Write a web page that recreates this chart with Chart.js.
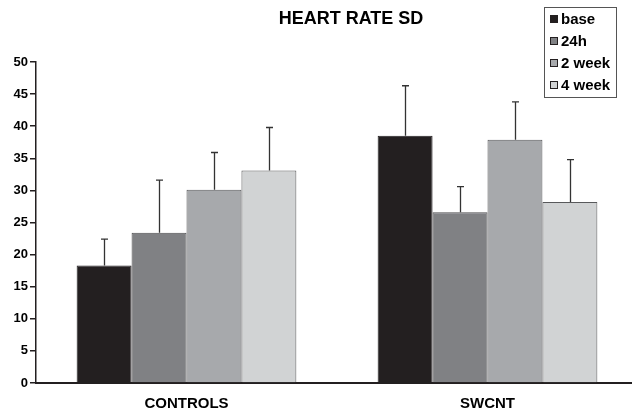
<!DOCTYPE html>
<html>
<head>
<meta charset="utf-8">
<script src="https://cdn.jsdelivr.net/npm/chart.js@4"></script>
<style>
  html, body { margin: 0; padding: 0; background: #ffffff; overflow: hidden; }
  #wrap { width: 632px; height: 415px; position: relative; overflow: hidden; }
  #chart { position: absolute; left: 0; top: 0; }
</style>
</head>
<body>
<div id="wrap"><canvas id="chart" width="638" height="415"></canvas></div>
<script>
// Groups on the x axis
const groups = ['CONTROLS', 'SWCNT'];

// Series names (legend)
const seriesNames = ['base', '24h', '2 week', '4 week'];

// Mean heart rate SD per group
const baseMean  = [18.3, 38.5];
const h24Mean   = [23.4, 26.6];
const week2Mean = [30.1, 37.9];
const week4Mean = [33.1, 28.2];

// Upper error (SD) per group
const baseErr  = [4.1, 7.8];
const h24Err   = [8.2, 4.0];
const week2Err = [5.8, 5.9];
const week4Err = [6.7, 6.6];

// Y axis range and step
const yMin = 0, yMax = 50, yStep = 5;

const chartTitle = 'HEART RATE SD';

const fills   = ['#231f20', '#808184', '#a7a9ac', '#d1d3d4'];
const borders = ['#231f20', '#4d4d4f', '#58595b', '#58595b'];
const means = [baseMean, h24Mean, week2Mean, week4Mean];
const errs  = [baseErr, h24Err, week2Err, week4Err];

const FONT = '"Liberation Sans", Arial, Helvetica, sans-serif';

const datasets = seriesNames.map((name, i) => ({
  label: name,
  data: means[i],
  errors: errs[i],
  backgroundColor: fills[i],
  borderColor: borders[i],
  borderWidth: 1,
  borderSkipped: 'bottom',
  categoryPercentage: 0.73,
  barPercentage: 1.0
}));

// Upper error bars with a small cap
const errorBarPlugin = {
  id: 'errorBars',
  afterDatasetsDraw(chart) {
    const ctx = chart.ctx;
    const yScale = chart.scales.y;
    ctx.save();
    ctx.strokeStyle = '#333333';
    ctx.lineWidth = 1.3;
    chart.data.datasets.forEach((ds, di) => {
      const meta = chart.getDatasetMeta(di);
      meta.data.forEach((bar, j) => {
        const top = yScale.getPixelForValue(ds.data[j] + ds.errors[j]);
        const x = Math.round(bar.x) + 0.5;
        ctx.beginPath();
        ctx.moveTo(x, bar.y);
        ctx.lineTo(x, top);
        ctx.moveTo(x - 3.5, top);
        ctx.lineTo(x + 3.5, top);
        ctx.stroke();
      });
    });
    ctx.restore();
  }
};

// Title and boxed legend drawn on the canvas
const decorPlugin = {
  id: 'decor',
  afterDraw(chart) {
    const ctx = chart.ctx;
    ctx.save();
    ctx.fillStyle = '#000000';
    ctx.font = 'bold 18px ' + FONT;
    ctx.textAlign = 'center';
    ctx.textBaseline = 'middle';
    ctx.fillText(chartTitle, 351, 19);

    // legend box
    ctx.strokeStyle = '#555555';
    ctx.lineWidth = 1;
    ctx.strokeRect(544.5, 7.5, 72, 90);
    ctx.font = 'bold 15px ' + FONT;
    ctx.textAlign = 'left';
    chart.data.datasets.forEach((ds, i) => {
      const cy = 19 + i * 22;
      ctx.fillStyle = ds.backgroundColor;
      ctx.fillRect(550, cy - 4, 8, 8);
      ctx.strokeStyle = '#231f20';
      ctx.strokeRect(550.5, cy - 3.5, 7, 7);
      ctx.fillStyle = '#000000';
      ctx.fillText(ds.label, 561, cy + 1);
    });
    ctx.restore();
  }
};

new Chart(document.getElementById('chart'), {
  type: 'bar',
  data: { labels: groups, datasets },
  options: {
    responsive: false,
    animation: false,
    layout: { padding: { top: 62, right: 0, left: 0, bottom: 0 } },
    plugins: {
      legend: { display: false },
      title: { display: false },
      tooltip: { enabled: false }
    },
    scales: {
      x: {
        grid: { display: false, drawTicks: false },
        border: { display: true, color: '#231f20', width: 2 },
        ticks: {
          color: '#000000',
          font: { family: FONT, size: 15, weight: 'bold' },
          padding: 12,
          maxRotation: 0
        },
        afterFit(scale) { scale.height = 32; }
      },
      y: {
        min: yMin,
        max: yMax,
        grid: {
          drawOnChartArea: false,
          drawTicks: true,
          tickLength: 6,
          color: '#231f20',
          lineWidth: 1.5
        },
        border: { display: true, color: '#231f20', width: 1.5 },
        ticks: {
          stepSize: yStep,
          color: '#000000',
          font: { family: FONT, size: 13, weight: 'bold' },
          padding: 2
        },
        afterFit(scale) { scale.width = 36; }
      }
    }
  },
  plugins: [errorBarPlugin, decorPlugin]
});
</script>
</body>
</html>
